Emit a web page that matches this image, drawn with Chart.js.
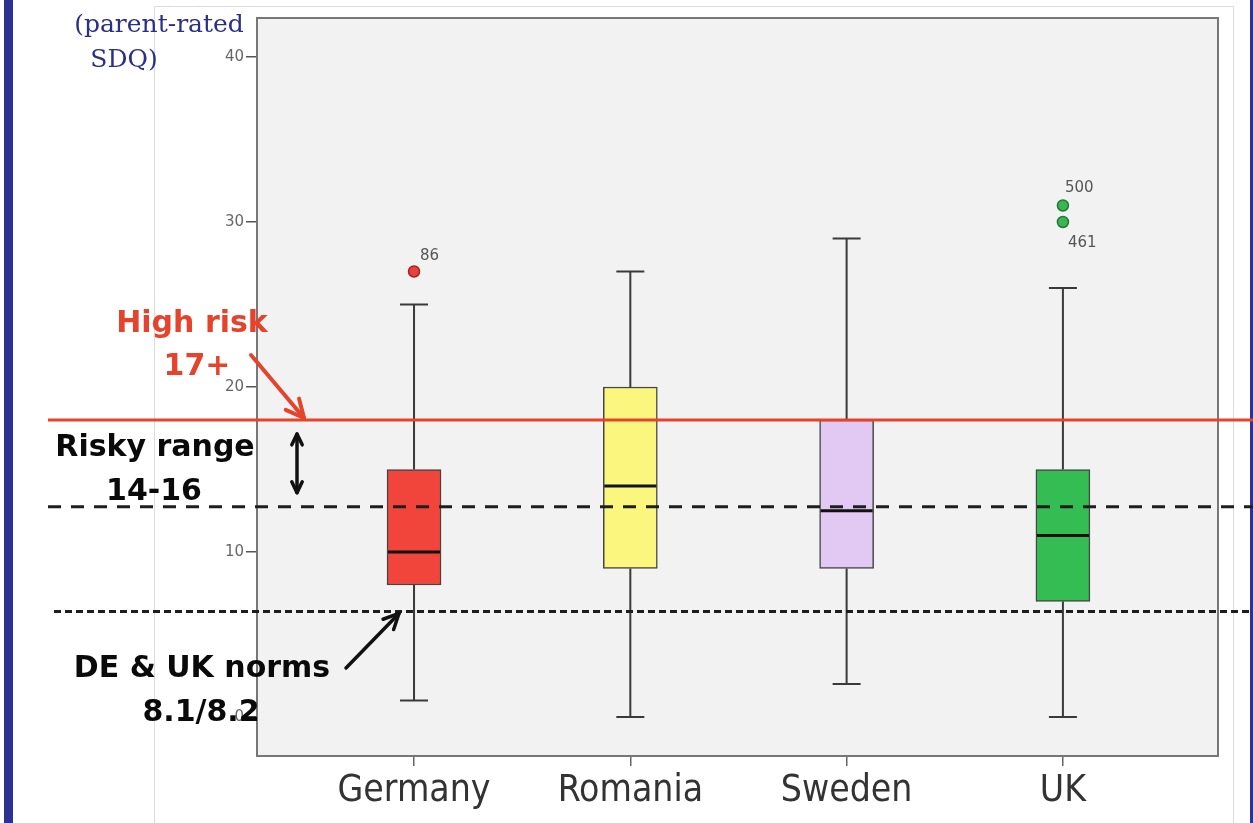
<!DOCTYPE html>
<html>
<head>
<meta charset="utf-8">
<script src="https://cdn.jsdelivr.net/npm/chart.js@4"></script>
<style>
  html, body { margin: 0; padding: 0; background: #fff; overflow: hidden; }
  #wrap { width: 1253px; height: 823px; position: relative; }
</style>
</head>
<body>
<div id="wrap"><canvas id="sdq" width="1253" height="823"></canvas></div>
<script>
// ---- DATA ----
const countries    = ['Germany', 'Romania', 'Sweden', 'UK'];
const whiskerLow   = [1, 0, 2, 0];
const quart1       = [8, 9, 9, 7];
const medians      = [10, 14, 12.5, 11];
const quart3       = [15, 20, 18, 15];
const whiskerHigh  = [25, 27, 29, 26];
const outlierVals  = [[27], [], [], [31, 30]];
const outlierIds   = [['86'], [], [], ['500', '461']];
const yTicks       = [0, 10, 20, 30, 40];

// cut-offs drawn across the slide
const highRiskCut = 18;
const riskyCut    = 12.75;
const normsCut    = 6.4;

// ---- COLORS ----
const BOX = ['#f1443a', '#fbf77e', '#e2c9f3', '#34bd52'];
const DOT = ['#e8403c', null, null, '#3bb653'];
const DOT_EDGE = ['#a8201c', null, null, '#1d7a30'];
const RED = '#e5432b';
const NAVY = '#2b2f86';

const pos = i => i + 1;

// ---- PLUGINS ----
const slideBg = {
    id: 'slideBg',
    beforeDraw(chart) {
        const { ctx, chartArea: a } = chart;
        ctx.save();
        ctx.fillStyle = '#fff';
        ctx.fillRect(0, 0, chart.width, chart.height);
        // blue slide bars
        ctx.fillStyle = '#2e3192';
        ctx.fillRect(4, 0, 9, chart.height);
        ctx.fillRect(1250, 0, 3, chart.height);
        // pasted image frame
        ctx.strokeStyle = '#dcdcdc';
        ctx.lineWidth = 1;
        ctx.beginPath();
        ctx.moveTo(154.5, chart.height); ctx.lineTo(154.5, 6.5); ctx.lineTo(1233.5, 6.5); ctx.lineTo(1233.5, chart.height);
        ctx.stroke();
        // plot background
        ctx.fillStyle = '#f2f2f2';
        ctx.fillRect(a.left, a.top, a.right - a.left, a.bottom - a.top);
        ctx.restore();
    },
};

const whiskers = {
    id: 'whiskers',
    beforeDatasetsDraw(chart) {
        const { ctx, scales: { x, y } } = chart;
        ctx.save();
        ctx.strokeStyle = '#3a3a3a';
        ctx.lineWidth = 2;
        countries.forEach((c, i) => {
            const px = x.getPixelForValue(pos(i));
            ctx.beginPath();
            ctx.moveTo(px, y.getPixelForValue(whiskerLow[i])); ctx.lineTo(px, y.getPixelForValue(quart1[i]));
            ctx.moveTo(px, y.getPixelForValue(quart3[i])); ctx.lineTo(px, y.getPixelForValue(whiskerHigh[i]));
            [whiskerLow[i], whiskerHigh[i]].forEach(v => {
                const py = y.getPixelForValue(v);
                ctx.moveTo(px - 14, py); ctx.lineTo(px + 14, py);
            });
            ctx.stroke();
        });
        ctx.restore();
    },
    afterDatasetsDraw(chart) {
        const { ctx, chartArea: a, scales: { x, y } } = chart;
        ctx.save();
        ctx.strokeStyle = '#111';
        ctx.lineWidth = 3;
        countries.forEach((c, i) => {
            const px = x.getPixelForValue(pos(i));
            const py = y.getPixelForValue(medians[i]);
            ctx.beginPath();
            ctx.moveTo(px - 26, py); ctx.lineTo(px + 26, py);
            ctx.stroke();
        });
        // outlier case ids
        ctx.fillStyle = '#555';
        ctx.font = '15px "DejaVu Sans"';
        ctx.textBaseline = 'alphabetic';
        const offs = [[[6, -11]], [], [], [[2, -13], [5, 25]]];
        outlierVals.forEach((vals, i) => {
            vals.forEach((v, k) => {
                const px = x.getPixelForValue(pos(i));
                const py = y.getPixelForValue(v);
                ctx.fillText(outlierIds[i][k], px + offs[i][k][0], py + offs[i][k][1]);
            });
        });
        // plot frame
        ctx.strokeStyle = '#777';
        ctx.lineWidth = 2;
        ctx.strokeRect(a.left, a.top, a.right - a.left, a.bottom - a.top);
        ctx.restore();
    },
};

function arrowHead(ctx, fx, fy, tx, ty, len, color) {
    const ang = Math.atan2(ty - fy, tx - fx);
    ctx.beginPath();
    ctx.moveTo(tx, ty);
    ctx.lineTo(tx - len * Math.cos(ang - 0.45), ty - len * Math.sin(ang - 0.45));
    ctx.moveTo(tx, ty);
    ctx.lineTo(tx - len * Math.cos(ang + 0.45), ty - len * Math.sin(ang + 0.45));
    ctx.strokeStyle = color;
    ctx.stroke();
}

const cutoffs = {
    id: 'cutoffs',
    afterDraw(chart) {
        const { ctx, scales: { y } } = chart;
        const yHigh = y.getPixelForValue(highRiskCut);
        const yRisk = y.getPixelForValue(riskyCut);
        const yNorm = y.getPixelForValue(normsCut);
        ctx.save();
        ctx.lineCap = 'butt';
        // high risk line
        ctx.strokeStyle = RED; ctx.lineWidth = 3;
        ctx.beginPath(); ctx.moveTo(48, yHigh); ctx.lineTo(chart.width, yHigh); ctx.stroke();
        // risky range dashed
        ctx.strokeStyle = '#1e1e1e'; ctx.lineWidth = 3; ctx.setLineDash([13, 10]);
        ctx.beginPath(); ctx.moveTo(48, yRisk); ctx.lineTo(chart.width, yRisk); ctx.stroke();
        // norms dashed
        ctx.setLineDash([7, 4]);
        ctx.beginPath(); ctx.moveTo(54, yNorm); ctx.lineTo(chart.width, yNorm); ctx.stroke();
        ctx.setLineDash([]);

        // arrows
        ctx.lineCap = 'round';
        ctx.lineWidth = 4;
        ctx.strokeStyle = RED;
        ctx.beginPath(); ctx.moveTo(251, 355); ctx.lineTo(304, yHigh - 2); ctx.stroke();
        arrowHead(ctx, 251, 355, 304, yHigh - 2, 20, RED);

        ctx.lineWidth = 3.5;
        ctx.strokeStyle = '#111';
        ctx.beginPath(); ctx.moveTo(297, yHigh + 14); ctx.lineTo(297, yRisk - 14); ctx.stroke();
        arrowHead(ctx, 297, yRisk - 14, 297, yHigh + 14, 12, '#111');
        arrowHead(ctx, 297, yHigh + 14, 297, yRisk - 14, 12, '#111');

        ctx.lineWidth = 3.5;
        ctx.beginPath(); ctx.moveTo(346, 668); ctx.lineTo(399, yNorm + 2); ctx.stroke();
        arrowHead(ctx, 346, 668, 399, yNorm + 2, 17, '#111');

        // texts
        ctx.textAlign = 'center';
        ctx.textBaseline = 'alphabetic';
        ctx.font = 'bold 30px "DejaVu Sans"';
        ctx.fillStyle = RED;
        ctx.fillText('High risk', 192, 332);
        ctx.fillText('17+', 197, 375);
        ctx.fillStyle = '#0a0a0a';
        ctx.fillText('Risky range', 155, 456);
        ctx.fillText('14-16', 154, 500);
        ctx.fillText('DE & UK norms', 202, 677);
        ctx.fillText('8.1/8.2', 201, 721);

        ctx.font = '25px "DejaVu Serif"';
        ctx.fillStyle = NAVY;
        ctx.fillText('(parent-rated', 159, 32);
        ctx.fillText('SDQ)', 124, 67);
        ctx.restore();
    },
};

// ---- CHART ----
new Chart(document.getElementById('sdq'), {
    type: 'bar',
    data: {
        datasets: [
            {
                data: countries.map((c, i) => ({ x: pos(i), y: [quart1[i], quart3[i]] })),
                backgroundColor: BOX,
                borderColor: '#444',
                borderWidth: 1.5,
                borderSkipped: false,
                barThickness: 54,
            },
            ...outlierVals.map((vals, i) => ({
                type: 'scatter',
                data: vals.map(v => ({ x: pos(i), y: v })),
                backgroundColor: DOT[i] || '#000',
                borderColor: DOT_EDGE[i] || '#000',
                borderWidth: 1.5,
                pointRadius: 5.5,
            })),
        ],
    },
    options: {
        responsive: false,
        animation: false,
        devicePixelRatio: 1,
        layout: { padding: { top: 18, right: 35, left: 0, bottom: 0 } },
        plugins: { legend: { display: false }, tooltip: { enabled: false } },
        scales: {
            x: {
                type: 'linear',
                offset: false,
                min: 0.274, max: 4.717,
                afterBuildTicks: s => { s.ticks = countries.map((c, i) => ({ value: pos(i) })); },
                afterFit: s => { s.height = 67; },
                ticks: {
                    callback: v => countries[v - 1],
                    color: '#333',
                    font: { family: '"DejaVu Sans Condensed", "DejaVu Sans"', size: 37 },
                    padding: 3,
                    maxRotation: 0,
                },
                grid: { offset: false, drawOnChartArea: false, tickLength: 10, color: '#666', lineWidth: 1.5 },
                border: { display: false },
            },
            y: {
                min: -2.36, max: 42.36,
                afterBuildTicks: s => { s.ticks = yTicks.map(v => ({ value: v })); },
                afterFit: s => { s.width = 257; },
                ticks: {
                    color: '#666',
                    font: { family: '"DejaVu Sans"', size: 15 },
                    padding: 2,
                },
                grid: { drawOnChartArea: false, tickLength: 11, color: '#555', lineWidth: 1.5 },
                border: { display: false },
            },
        },
    },
    plugins: [slideBg, whiskers, cutoffs],
});
</script>
</body>
</html>
